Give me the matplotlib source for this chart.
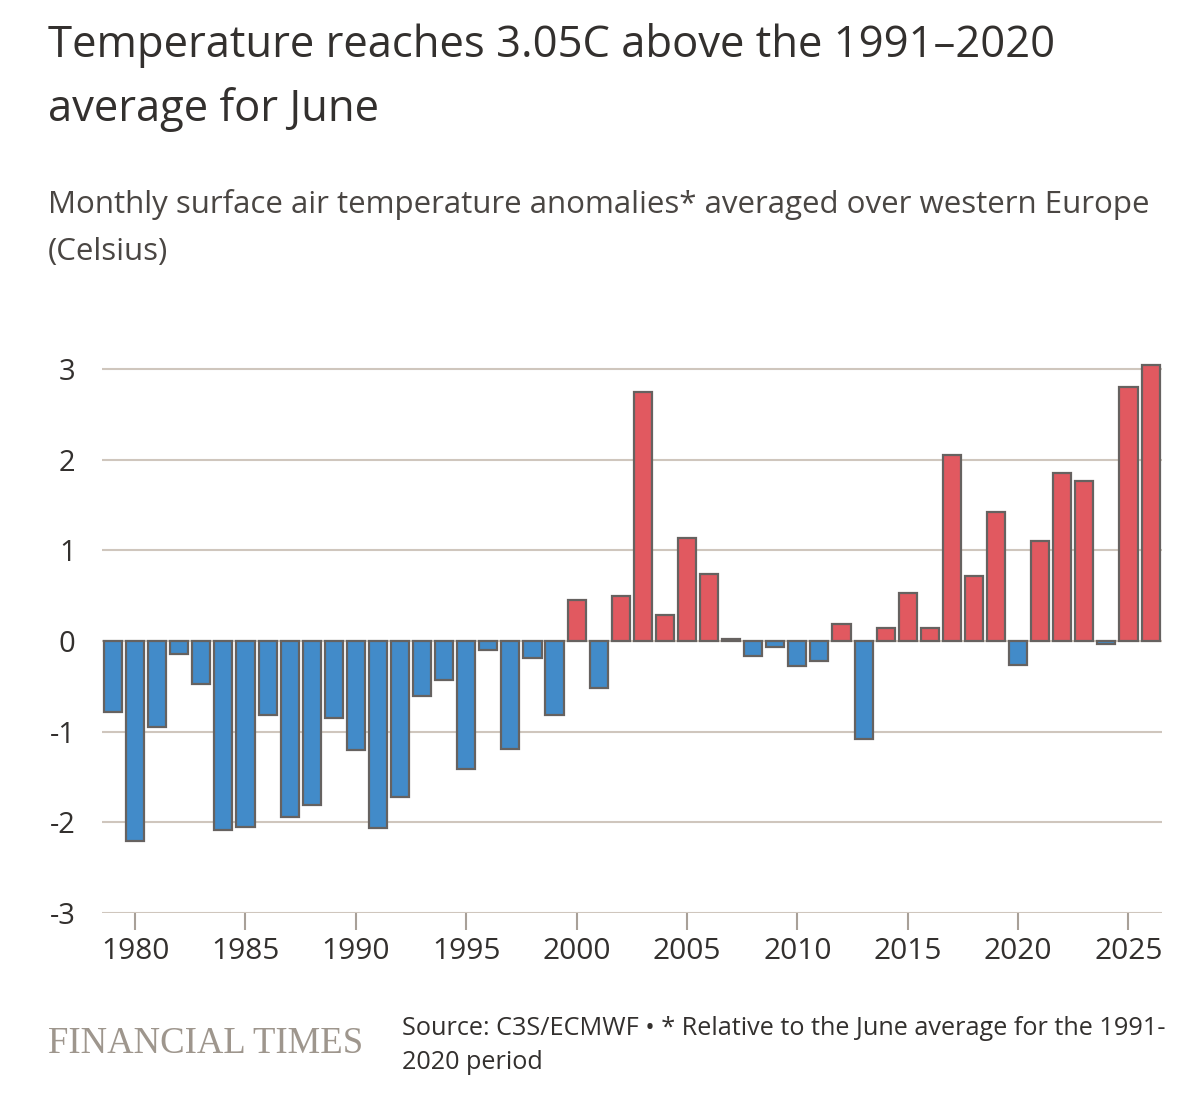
import numpy as np
import matplotlib
matplotlib.use('Agg')
import matplotlib.pyplot as plt

# June anomalies vs 1991-2020 average, western Europe (C)
years = list(range(1979, 2027))
anomaly = [-0.78, -2.20, -0.95, -0.14, -0.47, -2.08, -2.05, -0.81, -1.94, -1.81,
           -0.85, -1.20, -2.06, -1.72, -0.61, -0.43, -1.41, -0.10, -1.19, -0.19,
           -0.81, 0.45, -0.52, 0.50, 2.75, 0.29, 1.14, 0.74, 0.02, -0.16,
           -0.06, -0.27, -0.22, 0.19, -1.08, 0.14, 0.53, 0.14, 2.05, 0.72,
           1.42, -0.26, 1.10, 1.85, 1.77, -0.03, 2.80, 3.05]
x_ticks = [1980, 1985, 1990, 1995, 2000, 2005, 2010, 2015, 2020, 2025]
y_ticks = [-3, -2, -1, 0, 1, 2, 3]

plt.rcParams['font.family'] = ['Open Sans', 'DejaVu Sans']

red = '#e15960'
blue = '#428bc9'
grid_col = '#cfc6bd'
text_col = '#33302e'

fig = plt.figure(figsize=(12, 11.14), dpi=100)
fig.patch.set_facecolor('white')
ax = fig.add_axes([0.085, 0.1804, 0.883, 0.4964])

colors = [red if v > 0 else blue for v in anomaly]
ax.bar(years, anomaly, width=0.82, color=colors, edgecolor='#666260', linewidth=1.6, zorder=3)

ax.set_xlim(1978.5, 2026.5)
ax.set_ylim(-3, 3.1)
ax.set_yticks(y_ticks)
ax.set_yticklabels([str(t) for t in y_ticks])
ax.set_xticks(x_ticks)
ax.set_xticklabels([str(t) for t in x_ticks])

for t in y_ticks:
    ax.axhline(t, color=grid_col, linewidth=1.5, zorder=1)

for s in ['top', 'right', 'left', 'bottom']:
    ax.spines[s].set_visible(False)

ax.tick_params(axis='y', length=0, pad=19, labelsize=21, labelcolor=text_col)
ax.tick_params(axis='x', length=12, width=1.5, color='#a8a098', pad=5,
               labelsize=21.5, labelcolor=text_col)

fig.text(0.04, 0.979, 'Temperature reaches 3.05C above the 1991\u20132020\naverage for June',
         fontsize=31.4, color=text_col, va='top', ha='left', linespacing=1.54)
fig.text(0.04, 0.83, 'Monthly surface air temperature anomalies* averaged over western Europe\n(Celsius)',
         fontsize=22.5, color='#4a4643', va='top', ha='left', linespacing=1.72)

fig.text(0.04, 0.063, 'FINANCIAL TIMES', fontsize=26.5, color='#9e968d',
         family=['Liberation Serif', 'DejaVu Serif'], va='center', ha='left')
fig.text(0.335, 0.088, 'Source: C3S/ECMWF \u2022 * Relative to the June average for the 1991-\n2020 period',
         fontsize=18.2, color=text_col, va='top', ha='left', linespacing=1.48)

plt.savefig('out.png', dpi=100)
